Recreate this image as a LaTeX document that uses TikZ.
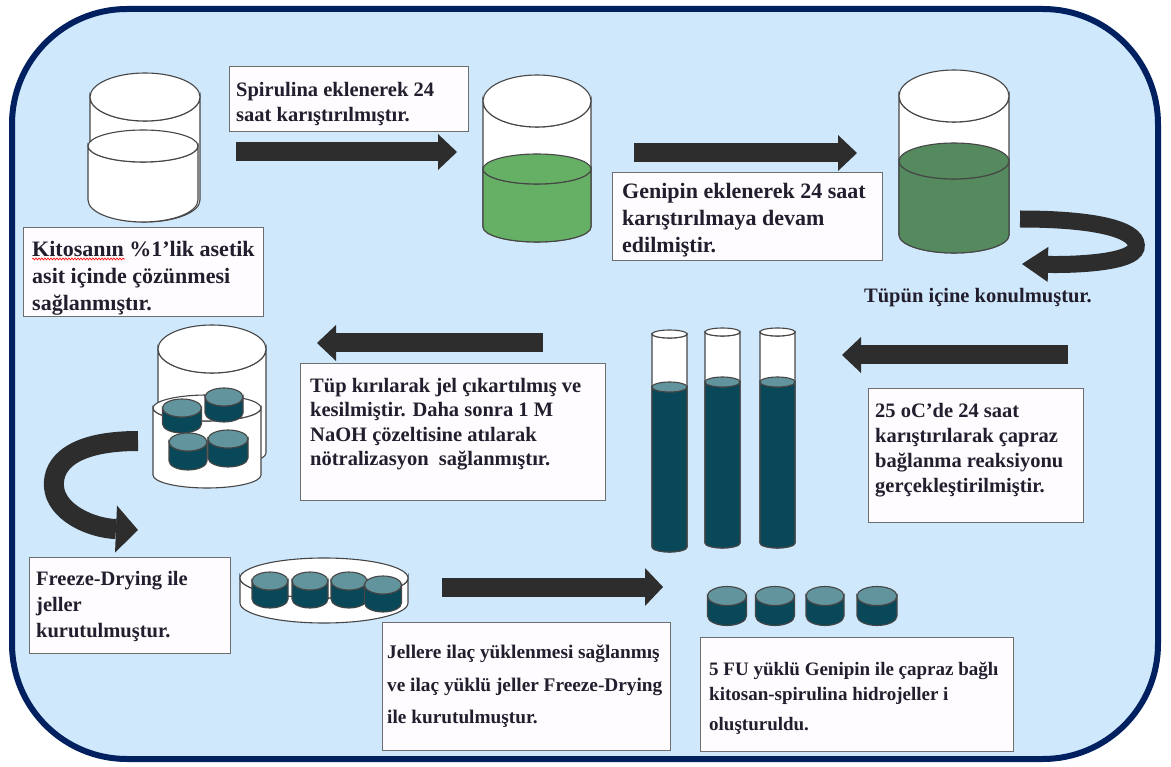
\documentclass[tikz,border=0pt]{standalone}
\usepackage{fontspec}
\setmainfont{Liberation Serif}
\usetikzlibrary{arrows.meta,decorations.pathmorphing}

\definecolor{framenavy}{RGB}{0,32,96}
\definecolor{panelblue}{RGB}{207,232,252}
\definecolor{arrowgray}{RGB}{45,45,45}
\definecolor{boxline}{RGB}{110,110,110}
\definecolor{boxfill}{RGB}{254,252,254}
\definecolor{inkdark}{RGB}{35,30,45}
\definecolor{spirgreen}{RGB}{102,176,102}
\definecolor{genigreen}{RGB}{84,138,94}
\definecolor{geldark}{RGB}{8,72,88}
\definecolor{geltop}{RGB}{98,148,158}
\definecolor{glassline}{RGB}{70,70,70}

% cylinder: centre x, top y, bottom y, x radius, top y radius, bottom y radius, body fill, top fill
\newcommand\drawcyl[8]{%
  \filldraw[glass, fill=#7] (#1-#4,#2) -- (#1-#4,#3)
    arc[start angle=180, end angle=0, x radius=#4, y radius=#6]
    -- (#1+#4,#2)
    arc[start angle=0, end angle=180, x radius=#4, y radius=#5] -- cycle;
  \filldraw[glass, fill=#8] (#1,#2) ellipse[x radius=#4, y radius=#5];
}
% gel disc: centre x, top y, bottom y, x radius, y radius
\newcommand\geldisc[5]{\drawcyl{#1}{#2}{#3}{#4}{#5}{#5}{geldark}{geltop}}

\tikzset{
  glass/.style={draw=glassline, line width=1.1pt},
  blockarrow/.style={draw=arrowgray, line width=19pt,
    -{Triangle[length=19pt, width=36pt, line width=0pt]}},
  stepbox/.style={draw=boxline, line width=1.4pt, fill=boxfill, inner sep=0pt, anchor=north west},
  steptext/.style={inner sep=0pt, anchor=north west, align=left, text=inkdark,
    font=\bfseries\fontsize{20.5}{25.5}\selectfont},
  bigtext/.style={steptext, font=\bfseries\fontsize{22}{26.8}\selectfont},
}

\begin{document}
\begin{tikzpicture}[x=1pt, y=-1pt]
\useasboundingbox (0,0) rectangle (1171,767);

% rounded panel
\draw[line width=6pt, draw=framenavy, fill=panelblue, rounded corners=115pt] (12,9) rectangle (1158,759);

% ---------- row 1 ----------
% chitosan solution
\drawcyl{145}{97}{200}{55}{24}{22}{white}{white}
\drawcyl{143}{146}{200}{55}{16}{22}{white}{white}

\node[stepbox, minimum width=240pt, minimum height=89pt] (boxK) at (23,227) {};
\node[bigtext] (txtK) at (32,241) {Kitosanın \%1’lik asetik\\asit içinde çözünmesi\\sağlanmıştır.};
\draw[red, line width=0.6pt, decorate, decoration={snake, amplitude=1pt, segment length=3pt}] (32,259) -- (125,259);

\node[stepbox, minimum width=239pt, minimum height=65pt] (boxS) at (229,66) {};
\node[steptext] (txtS) at (236,82) {Spirulina eklenerek 24\\saat karıştırılmıştır.};

\coordinate (a1s) at (236,152); \coordinate (a1e) at (457,152);
\draw[blockarrow] (a1s) -- (a1e);

% spirulina beaker
\drawcyl{537}{101}{227}{54}{26}{15}{white}{white}
\drawcyl{537}{169}{227}{54}{15}{15}{spirgreen}{spirgreen}

\coordinate (a2s) at (634,153); \coordinate (a2e) at (857,153);
\draw[blockarrow] (a2s) -- (a2e);

\node[stepbox, minimum width=270pt, minimum height=88pt] (boxG) at (612,172) {};
\node[bigtext] (txtG) at (622,183) {Genipin eklenerek 24 saat\\karıştırılmaya devam\\edilmiştir.};

% genipin beaker
\drawcyl{954}{96}{235}{55}{26}{18}{white}{white}
\drawcyl{954}{161}{235}{55}{18}{18}{genigreen}{genigreen}

% turn-around arrow on the right
\coordinate (c1s) at (1020,219); \coordinate (c1e) at (1022,264);
\draw[draw=arrowgray, line width=17pt, -{Triangle[length=26pt, width=35pt, line width=0pt]}]
  (c1s) .. controls (1105,219) and (1140,232) .. (1136,248)
        .. controls (1132,262) and (1080,265) .. (c1e);

\node[font=\bfseries\fontsize{20.5}{24}\selectfont, text=inkdark, anchor=base, inner sep=0pt] (tubelabel) at (978,303) {Tüpün içine konulmuştur.};

% ---------- row 2 ----------
\coordinate (a3s) at (1068,355); \coordinate (a3e) at (842,355);
\draw[blockarrow] (a3s) -- (a3e);

\node[stepbox, minimum width=215pt, minimum height=134pt] (box25) at (868,388) {};
\node[steptext, font=\bfseries\fontsize{20.5}{25}\selectfont] (txt25) at (875,403) {25 oC’de 24 saat\\karıştırılarak çapraz\\bağlanma reaksiyonu\\gerçekleştirilmiştir.};

% tubes
\drawcyl{669.5}{334}{547}{17.5}{4}{5}{white}{white}
\drawcyl{669.5}{387}{547}{17.5}{5}{5}{geldark}{geltop}
\drawcyl{722.5}{332}{543}{17.5}{4}{5}{white}{white}
\drawcyl{722.5}{382}{543}{17.5}{5}{5}{geldark}{geltop}
\drawcyl{777.5}{332}{543}{17.5}{4}{5}{white}{white}
\drawcyl{777.5}{382}{543}{17.5}{5}{5}{geldark}{geltop}

\coordinate (a4s) at (543,343); \coordinate (a4e) at (317,343);
\draw[blockarrow] (a4s) -- (a4e);

\node[stepbox, minimum width=305pt, minimum height=137pt] (boxT) at (300,363) {};
\node[steptext, font=\bfseries\fontsize{20.5}{24.5}\selectfont] (txtT) at (310,378) {Tüp kırılarak jel çıkartılmış ve\\kesilmiştir. Daha sonra 1 M\\NaOH çözeltisine atılarak\\nötralizasyon \ sağlanmıştır.};

% beaker with cut gels in NaOH
\drawcyl{212}{349}{453}{54}{24}{13}{white}{white}
\drawcyl{207}{408}{475}{54}{13}{13}{white}{white}
\geldisc{224}{397}{413}{19}{9}
\geldisc{182}{408}{424}{19.5}{9}
\geldisc{228}{439}{458}{20}{9}
\geldisc{188}{442}{461}{19}{9}

% hook arrow on the left
\coordinate (c2s) at (138,441); \coordinate (c2e) at (138,530);
\draw[draw=arrowgray, line width=20pt, -{Triangle[length=22pt, width=47pt, line width=0pt]}]
  (c2s) .. controls (75,441) and (52,462) .. (54,487)
        .. controls (56,512) and (90,528) .. (c2e);

% ---------- row 3 ----------
\node[stepbox, minimum width=201pt, minimum height=96pt] (boxF) at (29,557) {};
\node[bigtext, font=\bfseries\fontsize{20.5}{26}\selectfont] (txtF) at (36,571) {Freeze-Drying ile\\jeller\\kurutulmuştur.};

% dish with dried gels
\drawcyl{324}{578}{603}{84}{20}{20}{white}{white}
\geldisc{270}{581}{599}{18}{9}
\geldisc{310}{581}{599}{18}{9}
\geldisc{349}{581}{599}{18}{9}
\geldisc{383}{585}{603}{18.5}{9}

\coordinate (a5s) at (442,587); \coordinate (a5e) at (663,587);
\draw[blockarrow, -{Triangle[length=18pt, width=38pt, line width=0pt]}] (a5s) -- (a5e);

\node[stepbox, minimum width=288pt, minimum height=128pt] (boxJ) at (382,622) {};
\node[steptext, font=\bfseries\fontsize{19.3}{32.5}\selectfont] (txtJ) at (387,645) {Jellere ilaç yüklenmesi sağlanmış\\ve ilaç yüklü jeller Freeze-Drying\\ile kurutulmuştur.};

% loaded hydrogels
\geldisc{727}{596}{616}{19.5}{9.5}
\geldisc{775}{596}{616}{19.5}{9.5}
\geldisc{825}{596}{616}{19}{9.5}
\geldisc{877}{596}{616}{20}{9.5}

\node[stepbox, minimum width=313pt, minimum height=114pt] (box5) at (700,637) {};
\node[steptext, font=\bfseries\fontsize{19}{25}\selectfont] (txt5) at (709,662) {5 FU yüklü Genipin ile çapraz bağlı\\kitosan-spirulina hidrojeller i\\[5pt]oluşturuldu.};

\end{tikzpicture}
\end{document}
